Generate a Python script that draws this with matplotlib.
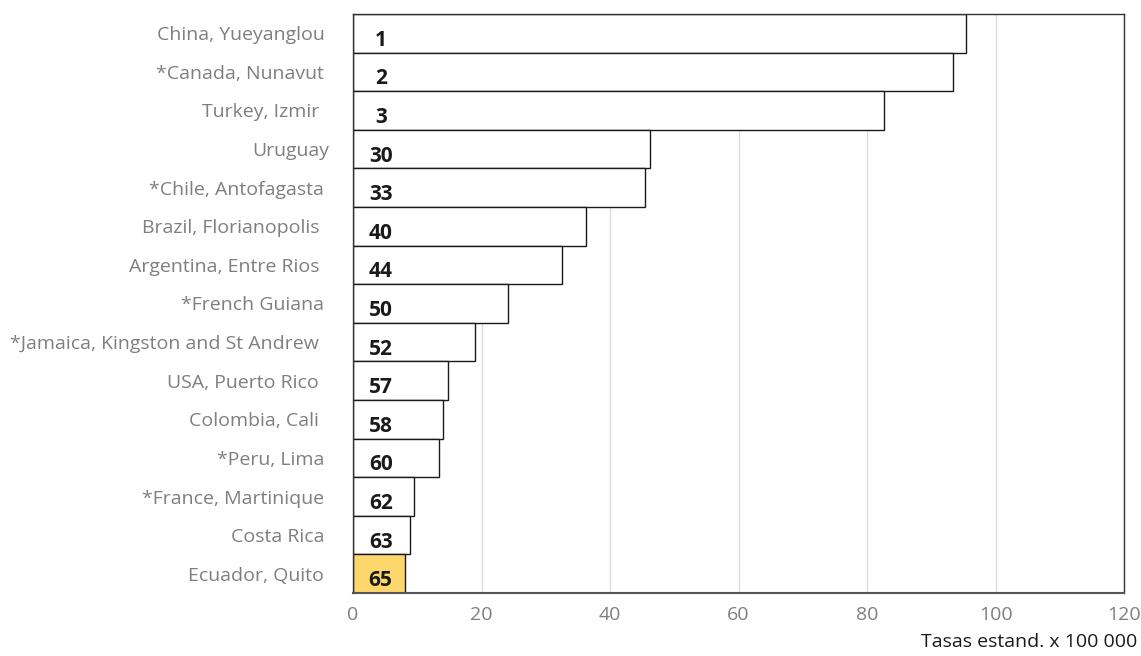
import matplotlib
matplotlib.use('Agg')
import matplotlib.pyplot as plt

plt.rcParams['font.family'] = ['Open Sans', 'DejaVu Sans']

# Data (top to bottom)
places = ['China, Yueyanglou ', '*Canada, Nunavut ', 'Turkey, Izmir  ', 'Uruguay',
          '*Chile, Antofagasta ', 'Brazil, Florianopolis  ', 'Argentina, Entre Rios  ',
          '*French Guiana ', '*Jamaica, Kingston and St Andrew  ', 'USA, Puerto Rico  ',
          'Colombia, Cali  ', '*Peru, Lima ', '*France, Martinique ', 'Costa Rica ',
          'Ecuador, Quito ']
ranks = [1, 2, 3, 30, 33, 40, 44, 50, 52, 57, 58, 60, 62, 63, 65]
rates = [95.4, 93.4, 82.6, 46.3, 45.4, 36.2, 32.5, 24.1, 19.0, 14.8, 14.0, 13.4, 9.5, 8.9, 8.1]
highlight = 'Ecuador, Quito '

fig = plt.figure(figsize=(11.41, 6.56), dpi=100)
ax = fig.add_axes([0.3094, 0.096, 0.6757, 0.8827])

n = len(places)
ypos = list(range(n))
colors = ['#FDD76B' if p == highlight else 'white' for p in places]
ax.barh(ypos, rates, height=1.0, color=colors, edgecolor='#1a1a1a', linewidth=1.0, zorder=2)

# rank numbers inside the bars
for y, r in zip(ypos, ranks):
    ax.text(4.3, y + 0.18, str(r), ha='center', va='center', fontsize=15,
            fontweight='bold', color='#1a1a1a', zorder=3)

ax.set_ylim(n - 0.5, -0.5)
ax.set_xlim(0, 120)
ax.set_xticks([0, 20, 40, 60, 80, 100, 120])
ax.set_yticks(ypos)
ax.set_yticklabels(places)
ax.tick_params(axis='both', length=0, labelsize=14, labelcolor='#7f7f7f')
ax.tick_params(axis='y', pad=17)
ax.tick_params(axis='x', pad=9)
ax.grid(axis='x', color='#dcdcdc', linewidth=1.0, zorder=0)
ax.set_axisbelow(True)
for s in ax.spines.values():
    s.set_color('#333333')
    s.set_linewidth(1.0)
ax.spines['bottom'].set_color('#555555')
ax.spines['bottom'].set_linewidth(1.5)

fig.text(0.997, 0.007, 'Tasas estand. x 100 000', ha='right', va='bottom',
         fontsize=14, color='#1a1a1a')

fig.savefig('out.png', dpi=100)
